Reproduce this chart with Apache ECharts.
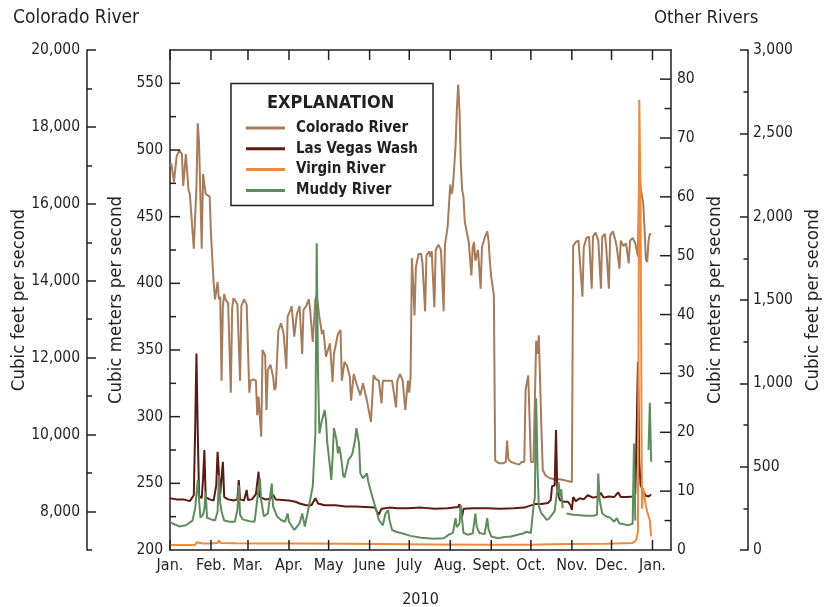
<!DOCTYPE html>
<html>
<head>
<meta charset="utf-8">
<title>Colorado River and other rivers, 2010</title>
<script src="https://cdn.jsdelivr.net/npm/echarts@6/dist/echarts.min.js"></script>
<style>
  html, body { margin: 0; padding: 0; background: #fff; }
  #chart { width: 834px; height: 607px; }
</style>
</head>
<body>
<div id="chart"></div>
<script>
// day index: 0 = 1 Jan 2010 (axis runs to mid Jan 2011)
const monthLabels = ['Jan.', 'Feb.', 'Mar.', 'Apr.', 'May', 'June', 'July', 'Aug.', 'Sept.', 'Oct.', 'Nov.', 'Dec.', 'Jan.'];
const outerLeftTicks = ['7000', '8000', '9000', '10000', '11000', '12000', '13000', '14000', '15000', '16000', '17000', '18000', '19000', '20000'];

// Colorado River, cubic meters per second (left axis)
const coloradoDay = [0, 1, 3, 5, 7, 9, 10, 12, 14, 15, 18, 20, 21, 22, 24, 25, 27, 30, 31, 32, 33, 34, 36, 37, 38, 39,
  40, 41, 42, 44, 45, 46, 47, 48, 50, 51, 52, 53, 54, 56, 58, 59, 60, 61, 63, 65, 66, 67, 69, 70, 72, 73, 74, 76, 78, 79,
  80, 82, 84, 86, 88, 89, 91, 92, 94, 96, 98, 100, 101, 103, 105, 106, 108, 110, 111, 113, 115, 116, 118, 121, 123, 124,
  127, 129, 130, 132, 134, 136, 137, 139, 141, 144, 146, 149, 152, 154, 156, 158, 160, 161, 163, 165, 168, 171, 172, 174,
  176, 178, 180, 181, 182, 183, 185, 186, 188, 190, 191, 193, 194, 196, 197, 198, 200, 201, 203, 204, 205, 207, 208, 210,
  212, 213, 214, 216, 217, 218, 219, 220, 221, 222, 223, 226, 227, 228, 229, 230, 231, 233, 234, 235, 236, 238, 240, 241,
  242, 243, 245, 246, 249, 252, 254, 255, 256, 258, 261, 264, 266, 268, 269, 270, 271, 273, 275, 277, 278, 279, 281, 282,
  284, 287, 291, 295, 300, 304, 305, 307, 309, 310, 312, 313, 315, 317, 319, 320, 322, 324, 326, 327, 329, 330, 332, 333,
  335, 337, 338, 340, 341, 343, 345, 347, 348, 350, 352, 354, 355, 356, 357, 358, 359, 360, 361, 362, 363, 364];
const coloradoFlow = [488, 490, 476, 495, 500, 497, 473, 497, 470, 467, 426, 472, 520, 505, 426, 482, 467, 465, 437, 436, 401, 388, 401, 388, 390, 327,
  383, 392, 388, 385, 384, 318, 381, 389, 386, 384, 383, 327, 383, 388, 384, 383, 318, 327, 328, 327, 301, 315, 285, 350, 346, 305, 335, 339, 330, 320,
  322, 365, 370, 362, 336, 375, 380, 383, 360, 377, 383, 347, 380, 383, 388, 380, 356, 388, 391, 375, 362, 365, 345, 355, 326, 347,
  362, 365, 327, 341, 338, 330, 312, 332, 325, 316, 325, 312, 296, 331, 328, 327, 310, 327, 327, 327, 327, 307, 327, 332,
  327, 305, 327, 318, 330, 419, 376, 412, 422, 422, 415, 379, 421, 424, 420, 424, 382, 425, 429, 427, 425, 379, 429, 442,
  474, 467, 472, 503, 530, 549, 530, 490, 470, 465, 446, 431, 430, 406, 427, 431, 417, 425, 425, 396, 427, 434, 439, 432,
  416, 405, 391, 267, 265, 265, 266, 282, 268, 266, 265, 264, 266, 266, 320, 326, 331, 266, 266, 357, 347, 361, 290, 260,
  256, 254, 253, 253, 252, 251, 428, 431, 432, 432, 390, 427, 434, 435, 396, 435, 438, 432, 396, 435, 437, 427, 396, 436,
  439, 432, 427, 411, 432, 428, 430, 415, 432, 434, 430, 420, 492, 472, 466, 460, 440, 418, 416, 432, 437, 437];

// Las Vegas Wash, cubic meters per second (right axis)
const vegasDay = [0, 5, 10, 15, 18, 19, 20, 21, 22, 24, 25, 26, 27, 30, 33, 35, 36, 37, 38, 40, 41, 44, 48, 51, 52, 53, 56,
  58, 59, 62, 65, 67, 68, 72, 76, 78, 80, 85, 90, 95, 98, 103, 107, 110, 112, 117, 125, 133, 140, 148, 155, 158, 160, 166,
  172, 180, 190, 200, 210, 218, 219, 221, 222, 230, 240, 250, 260, 268, 272, 276, 281, 286, 288, 289, 291, 292, 293, 295,
  298, 301, 303, 304, 305, 307, 310, 313, 316, 320, 324, 326, 328, 332, 336, 339, 341, 346, 350, 352, 353, 354, 355, 356,
  358, 360, 362, 364];
const vegasFlow = [8.8, 8.6, 8.6, 8.3, 9.3, 20, 33.4, 20, 9.2, 8.8, 12, 17, 9, 8.6, 8.4, 11, 16.7, 13, 9.5, 15, 9, 8.6, 8.4, 8.6, 11.9, 8.6, 8.4,
  10.2, 8.5, 8.6, 9.5, 13.3, 9, 8.6, 8.7, 9.4, 8.6, 8.5, 8.4, 8.2, 7.9, 7.6, 7.6, 8.8, 7.9, 7.6, 7.6, 7.4, 7.4, 7.3, 7.2, 6.0, 7.0, 7.2,
  7.1, 7.1, 7.2, 7.0, 7.1, 7.3, 7.8, 5.7, 7.0, 7.1, 7.1, 7.0, 7.1, 7.2, 7.5, 7.8, 7.8, 8.0, 8.5, 10.8, 11, 20.4, 10, 8.5,
  8.2, 8.2, 7.6, 6.8, 9.0, 8.3, 8.8, 8.6, 9.3, 8.9, 9.1, 9.7, 8.9, 9.1, 9.0, 9.8, 9.0, 9.0, 9.1, 9.5, 20, 32, 15, 11,
  10, 9.2, 9.1, 9.4];

// Virgin River, cubic meters per second (right axis)
const virginDay = [0, 10, 19, 20, 21, 25, 30, 36, 37, 38, 50, 70, 100, 130, 160, 200, 240, 270, 300, 330, 350, 352, 353, 354,
  355, 356, 357, 358, 359, 360, 361, 362, 363, 364];
const virginFlow = [0.85, 0.85, 0.85, 1.3, 1.2, 1.1, 1.1, 1.2, 1.6, 1.2, 1.15, 1.1, 1.1, 1.05, 1.0, 0.95, 0.9, 0.9, 1.0, 1.05, 1.2, 1.5, 2, 3.2,
  76.5, 58, 7, 10.5, 9, 7.5, 6.5, 5.8, 5.0, 2.3];

// Muddy River, cubic meters per second (right axis); null = no record
const muddyDay = [0, 2, 7, 12, 17, 19, 21, 22, 23, 25, 26, 27, 28, 31, 34, 36, 37, 38, 39, 41, 45, 49, 51, 52, 53, 55, 60,
  64, 66, 68, 69, 71, 74, 77, 78, 81, 84, 87, 89, 90, 94, 98, 100, 102, 104, 106, 108, 110, 111, 112, 113, 115, 117, 118,
  119, 121, 122, 123, 124, 126, 127, 128, 129, 131, 132, 133, 135, 137, 138, 140, 141, 143, 144, 146, 149, 150, 153, 156,
  158, 161, 163, 165, 166, 168, 171, 176, 182, 190, 200, 207, 211, 214, 216, 217, 219, 220, 221, 222, 225, 229, 231, 232,
  234, 238, 240, 241, 243, 248, 253, 258, 263, 267, 270, 273, 275, 276, 277, 278, 279, 281, 283, 285, 287, 289, 291, 293,
  294, 295, 296, 297, 298, 300, 305, 310, 315, 320, 323, 324, 325, 327, 330, 333, 336, 338, 340, 343, 346, 348, 350, 351,
  352, 353, 362, 363, 364];
const muddyFlow = [4.8, 4.5, 4.0, 4.2, 5.0, 7, 11.9, 8.5, 5.5, 6, 7, 9.9, 5.5, 5.2, 5.0, 6.5, 12.7, 8, 6.5, 5.0, 4.8, 4.8, 6.8, 11.0, 6, 5.2, 4.9,
  4.8, 8.5, 12.2, 8.5, 5.7, 6.2, 11.3, 7.4, 5.7, 5.1, 4.8, 6.2, 4.8, 3.4, 4.5, 6.2, 4.0, 6.2, 8.5, 10.8, 20, 52.1, 30, 19.8, 22.1, 23.8, 22,
  18.1, 14.2, 11.9, 15.6, 20.7, 18.7, 16.4, 17.6, 16.5, 12.7, 12.3, 12.4, 15.3, 15.9, 16.4, 18.7, 20.7, 18.1, 13.0, 12.2, 13.0, 11.6, 9.1, 6.8,
  5.1, 4.2, 6.2, 6.8, 5.1, 3.4, 3.1, 2.8, 2.4, 2.1, 1.9, 2.0, 2.6, 2.9, 5.4, 3.9, 4.5, 7.6, 5.1, 2.9, 2.6, 2.8, 6.2, 4.0,
  2.9, 2.7, 5.4, 3.5, 2.3, 2.0, 2.2, 2.3, 2.6, 2.8, 3.1, 2.9, 7.4, 9, 25.8, 14.2, 7.4, 6.2, 5.7, 5.1, 5.4, 6.0, 6.6, 10.3,
  11.5, 9, 10.3, 7.1, null, 6.2, 6.0, 5.9, 5.8, 5.8, 6.0, 13.0, 8.5, 6.2, 5.7, 5.5, 4.8, 5.4, 4.5, 4.4, 4.2, 4.3, 4.5, 18.1,
  5, null, 17.0, 25, 15];

// inward tick values of the plot frame
const leftMajorTicks = [250, 300, 350, 400, 450, 500, 550];
const leftMinorTicks = [225, 275, 325, 375, 425, 475, 525];
const rightMajorTicks = [10, 20, 30, 40, 50, 60, 70, 80];
const rightMinorTicks = [5, 15, 25, 35, 45, 55, 65, 75];

const days = [];
for (let i = 0; i < 380; i++) {
  days.push(new Date(Date.UTC(2010, 0, 1 + i)).toISOString().slice(0, 10));
}
const isMonthStart = (idx, val) => val.slice(8) === '01';
const monthName = (val) => monthLabels[(+val.slice(0, 4) - 2010) * 12 + (+val.slice(5, 7)) - 1];
const pairs = (dayArr, flowArr) => dayArr.map((d, i) => [d, flowArr[i]]);

const ink = '#231f20';
const font = "'DejaVu Sans Condensed', 'Liberation Sans Narrow', sans-serif";
const colors = ['#a67c5b', '#5b1a12', '#ee8a3c', '#5f8c5c'];
const axisLine = { show: true, onZero: false, lineStyle: { color: ink, width: 1.5 } };
const tickLine = { color: ink, width: 1.5 };
const labelStyle = { color: ink, fontSize: 15.5, fontFamily: font };
const nameStyle = { color: ink, fontSize: 18.5, fontFamily: font };
const legendBox = { type: 'rect', z: 5, shape: { x: 231, y: 83.5, width: 202, height: 122 }, style: { fill: '#fff', stroke: ink, lineWidth: 1.5 } };
const plot = { left: 170, right: 163, top: 50, bottom: 57 };

const myChart = echarts.init(document.getElementById('chart'));
const option = {
  animation: false,
  textStyle: { fontFamily: font },
  title: [
    { text: 'Colorado River', left: 13, top: 9, padding: 0, textStyle: { fontSize: 19, fontWeight: 'normal', color: ink, fontFamily: font } },
    { text: 'Other Rivers', left: 654, top: 9, padding: 0, textStyle: { fontSize: 18.5, fontWeight: 'normal', color: ink, fontFamily: font } },
    { text: 'EXPLANATION', left: 267, top: 94, padding: 0, z: 10, textStyle: { fontSize: 18, fontWeight: 'bold', color: ink, fontFamily: font } }
  ],
  graphic: [legendBox],
  legend: {
    data: ['Colorado River', 'Las Vegas Wash', 'Virgin River', 'Muddy River'],
    orient: 'vertical',
    left: 246,
    top: 120.5,
    padding: 0,
    icon: 'rect',
    itemWidth: 39,
    itemHeight: 3,
    itemGap: 5.8,
    z: 10,
    textStyle: { color: ink, fontSize: 15, lineHeight: 15, fontWeight: 'bold', fontFamily: font, padding: [0, 0, 0, 6] }
  },
  grid: { ...plot, outerBoundsMode: 'none' },
  xAxis: [
    {
      type: 'category', data: days, boundaryGap: false, position: 'bottom',
      axisLine: axisLine,
      axisTick: { show: false },
      axisLabel: { interval: isMonthStart, formatter: monthName, margin: 8, ...labelStyle, fontSize: 16 },
      name: '2010', nameLocation: 'middle', nameGap: 42, nameTextStyle: { ...labelStyle, fontSize: 16 }
    },
    {
      type: 'category', data: days, boundaryGap: false, position: 'top',
      axisLine: axisLine,
      axisTick: { show: false },
      axisLabel: { show: false }
    }
  ],
  yAxis: [
    {
      type: 'value', min: 200, max: 575, interval: 50, position: 'left',
      axisLine: axisLine,
      axisTick: { show: false },
      axisLabel: { margin: 7, formatter: (v) => (v % 50 === 0 ? String(v) : ''), ...labelStyle },
      splitLine: { show: false },
      name: 'Cubic meters per second', nameLocation: 'middle', nameRotate: 90, nameGap: 41, nameTextStyle: nameStyle
    },
    {
      type: 'category', data: outerLeftTicks, boundaryGap: false, position: 'left', offset: 83,
      axisLine: axisLine,
      axisTick: { show: true, inside: true, length: 5, interval: 0, lineStyle: tickLine },
      axisLabel: { show: false },
      name: 'Cubic feet per second', nameLocation: 'middle', nameRotate: 90, nameGap: 58, nameTextStyle: nameStyle
    },
    {
      type: 'category', data: outerLeftTicks, boundaryGap: false, position: 'left', offset: 83,
      axisLine: { show: false, onZero: false },
      axisTick: { show: true, inside: true, length: 9, interval: (i, v) => +v % 2000 === 0, lineStyle: tickLine },
      axisLabel: { interval: (i, v) => +v % 2000 === 0, margin: 7, formatter: (v) => Number(v).toLocaleString('en-US'), ...labelStyle }
    },
    {
      type: 'value', min: 0, max: 84.95, interval: 10, position: 'right',
      axisLine: axisLine,
      axisTick: { show: false },
      axisLabel: { margin: 6, formatter: (v) => (v % 10 === 0 ? String(v) : ''), ...labelStyle },
      splitLine: { show: false },
      name: 'Cubic meters per second', nameLocation: 'middle', nameRotate: 90, nameGap: 31, nameTextStyle: nameStyle
    },
    {
      type: 'value', min: 0, max: 3000, interval: 500, position: 'right', offset: 77,
      axisLine: axisLine,
      axisTick: { show: true, inside: true, length: 8, lineStyle: tickLine },
      minorTick: { show: true, splitNumber: 2, length: 4.5, lineStyle: tickLine },
      axisLabel: { margin: 5, formatter: (v) => v.toLocaleString('en-US'), ...labelStyle },
      splitLine: { show: false },
      name: 'Cubic feet per second', nameLocation: 'middle', nameRotate: 90, nameGap: 52, nameTextStyle: nameStyle
    }
  ],
  series: [
    {
      name: 'Colorado River', type: 'line', xAxisIndex: 0, yAxisIndex: 0, symbol: 'none', z: 2,
      data: pairs(coloradoDay, coloradoFlow),
      lineStyle: { color: colors[0], width: 2 }, itemStyle: { color: colors[0] }
    },
    {
      name: 'Las Vegas Wash', type: 'line', xAxisIndex: 0, yAxisIndex: 3, symbol: 'none', z: 3,
      data: pairs(vegasDay, vegasFlow),
      lineStyle: { color: colors[1], width: 2 }, itemStyle: { color: colors[1] }
    },
    {
      name: 'Muddy River', type: 'line', xAxisIndex: 0, yAxisIndex: 3, symbol: 'none', z: 3,
      data: pairs(muddyDay, muddyFlow),
      lineStyle: { color: colors[3], width: 2 }, itemStyle: { color: colors[3] }
    },
    {
      name: 'Virgin River', type: 'line', xAxisIndex: 0, yAxisIndex: 3, symbol: 'none', z: 4,
      data: pairs(virginDay, virginFlow),
      lineStyle: { color: colors[2], width: 2 }, itemStyle: { color: colors[2] }
    }
  ]
};
myChart.setOption(option);

// ticks pointing into the plot frame, placed through the axes' scales
const W = 834, H = 607;
const frameX0 = plot.left, frameX1 = W - plot.right, frameY0 = plot.top, frameY1 = H - plot.bottom;
const linear = (v, a, b, p0, p1) => p0 + (v - a) / (b - a) * (p1 - p0);
const toPx = (finder, v, fallback) => {
  let p;
  try { p = myChart.convertToPixel(finder, v); } catch (e) { p = NaN; }
  return Number.isFinite(p) ? p : fallback;
};
const tick = (x1, y1, x2, y2) => ({
  type: 'line', zlevel: 1, z: 100, silent: true,
  shape: { x1, y1, x2, y2 }, style: { stroke: ink, lineWidth: 1.5 }
});
const frameTicks = [];
leftMajorTicks.forEach((v) => {
  const y = toPx({ yAxisIndex: 0 }, v, linear(v, 200, 575, frameY1, frameY0));
  frameTicks.push(tick(frameX0, y, frameX0 + 10, y));
});
leftMinorTicks.forEach((v) => {
  const y = toPx({ yAxisIndex: 0 }, v, linear(v, 200, 575, frameY1, frameY0));
  frameTicks.push(tick(frameX0, y, frameX0 + 6, y));
});
rightMajorTicks.forEach((v) => {
  const y = toPx({ yAxisIndex: 3 }, v, linear(v, 0, 84.95, frameY1, frameY0));
  frameTicks.push(tick(frameX1, y, frameX1 - 11, y));
});
rightMinorTicks.forEach((v) => {
  const y = toPx({ yAxisIndex: 3 }, v, linear(v, 0, 84.95, frameY1, frameY0));
  frameTicks.push(tick(frameX1, y, frameX1 - 6.5, y));
});
days.forEach((d, i) => {
  if (!isMonthStart(i, d)) return;
  const x = toPx({ xAxisIndex: 0 }, d, linear(i, 0, days.length - 1, frameX0, frameX1));
  frameTicks.push(tick(x, frameY1, x, frameY1 - 10));
  frameTicks.push(tick(x, frameY0, x, frameY0 + 10));
});
myChart.setOption({ graphic: [legendBox, ...frameTicks] });
</script>
</body>
</html>
